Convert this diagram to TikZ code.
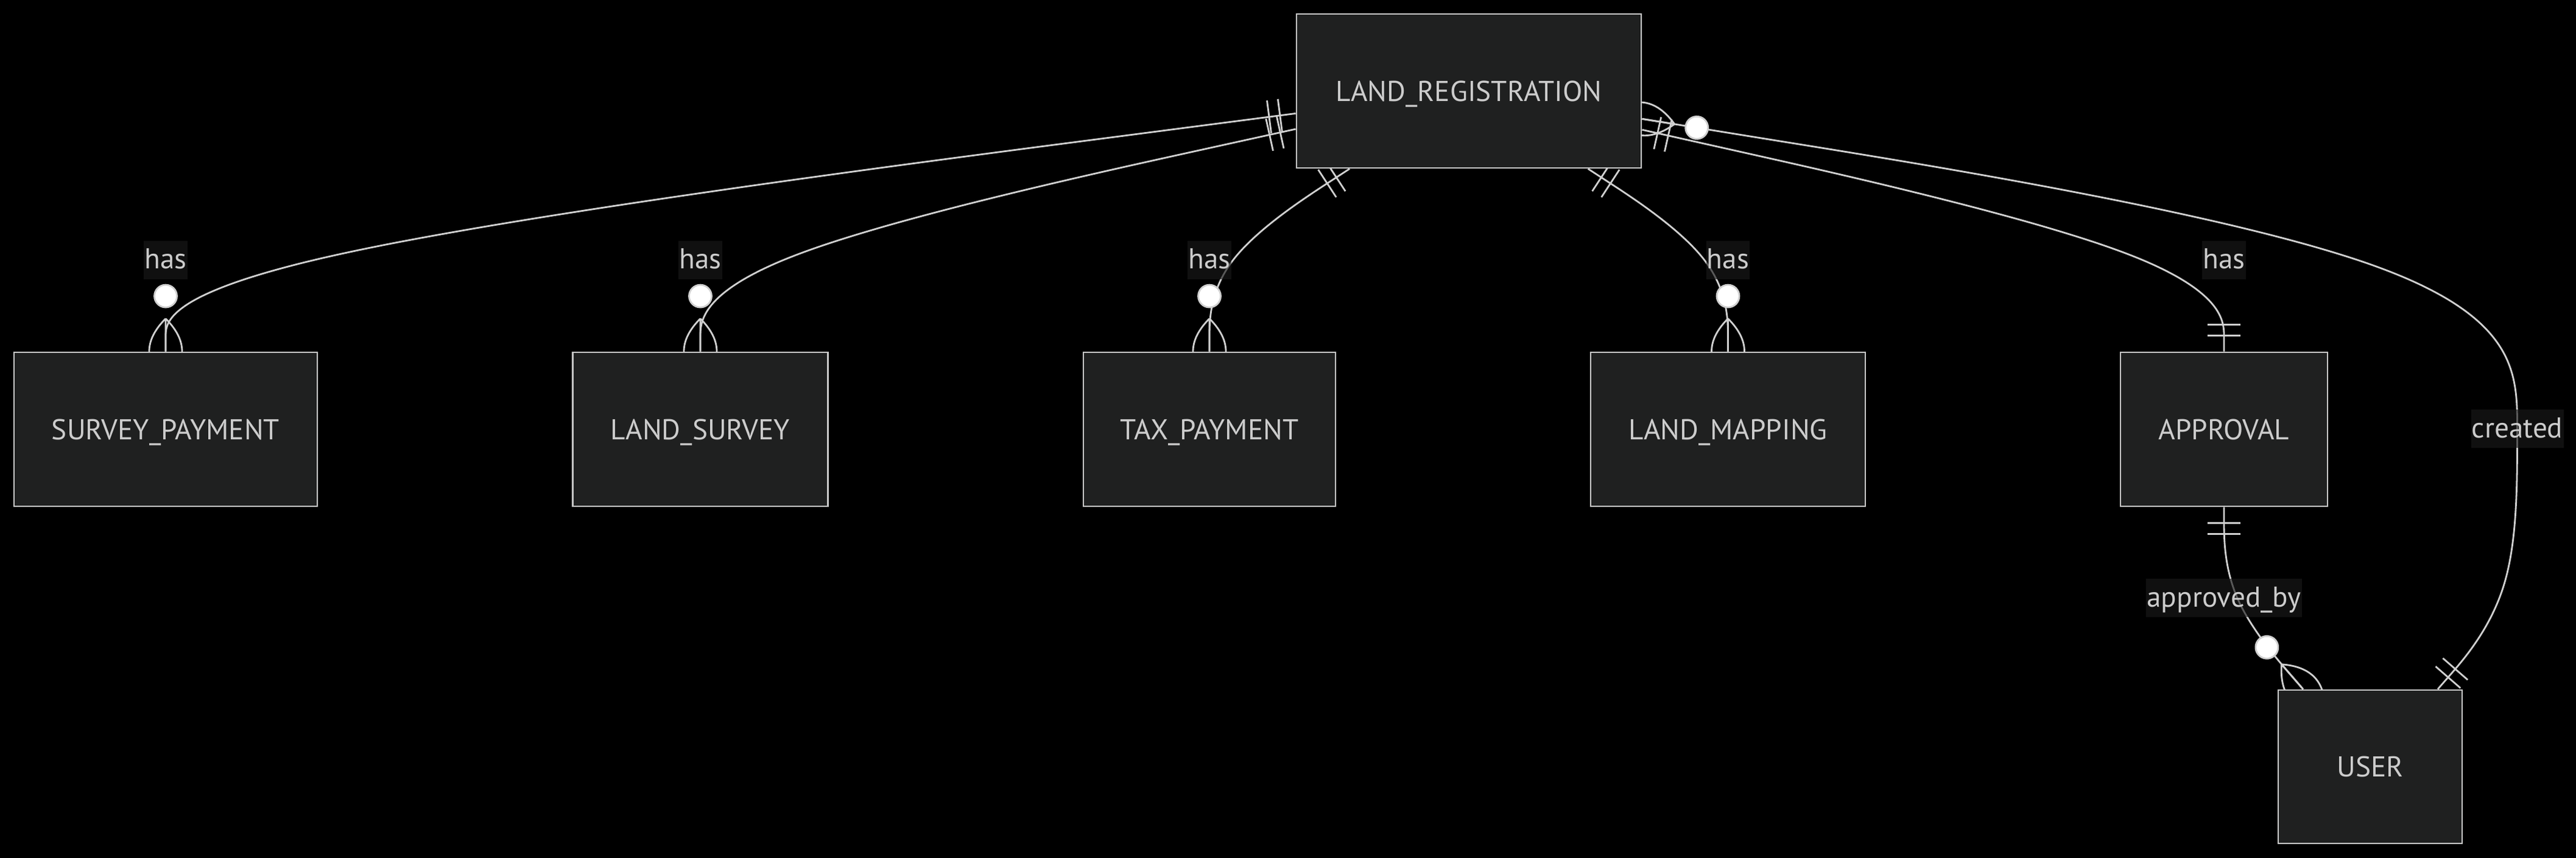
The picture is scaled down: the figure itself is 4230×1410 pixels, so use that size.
\documentclass[tikz,border=0pt]{standalone}
\usepackage{fontspec}
\setmainfont{PT Sans}
\usetikzlibrary{calc}
\definecolor{boxfill}{HTML}{1F2020}
\definecolor{boxline}{HTML}{C8C8C8}
\definecolor{txt}{HTML}{CCCCCC}
\definecolor{edgec}{HTML}{D0D0D0}
\definecolor{lblbg}{HTML}{1A1A1A}
\pgfdeclarelayer{back}
\pgfdeclarelayer{edges}
\pgfsetlayers{back,edges,main}
\newcommand\erangle[2]{%
  \pgfmathanglebetweenpoints{\pgfpointanchor{#1}{center}}{\pgfpointanchor{#2}{center}}%
  \global\let\erang\pgfmathresult}
\newcommand\onebars[2]{%
  \erangle{#1}{#2}%
  \begin{scope}[shift={(#1)}, rotate=\erang]
    \draw[edge] (26,-27) -- (26,27) (44,-27) -- (44,27);
  \end{scope}}
\newcommand\manyzero[2]{%
  \erangle{#1}{#2}%
  \begin{scope}[shift={(#1)}, rotate=\erang]
    \draw[edge] (54,0) -- (0,0)
      (54,0) .. controls (18,36) and (-18,36) .. (-54,0)
      (54,0) .. controls (18,-36) and (-18,-36) .. (-54,0);
    \draw[circ] (91,0) circle[radius=18.5];
  \end{scope}}
\tikzset{
  erfont/.style={font=\fontsize{11.8pt}{14pt}\selectfont},
  entity/.style={draw=boxline, fill=boxfill, line width=0.7pt, text=txt, erfont,
    minimum height=63.25pt, inner sep=0pt, text height=8.3pt, text depth=0pt},
  elabel/.style={fill=lblbg, fill opacity=0.65, text opacity=1, text=txt, erfont,
    inner xsep=0.3pt, inner ysep=0pt, text height=11.5pt, text depth=4.25pt},
  edge/.style={draw=edgec, line width=0.7pt},
  circ/.style={draw=edgec, fill=white, line width=0.7pt},
}
\begin{document}
\begin{tikzpicture}[x=0.25pt, y=-0.25pt]
\useasboundingbox (0,0) rectangle (4230,1410);
\begin{pgfonlayer}{back}
  \fill[black] (0,0) rectangle (4230,1410);
\end{pgfonlayer}
% entities
\node[entity, minimum width=141.5pt] (LR) at (2412,149.5) {LAND\_REGISTRATION};
\node[entity, minimum width=124.5pt] (SP) at (272,705.5) {SURVEY\_PAYMENT};
\node[entity, minimum width=104.75pt] (LS) at (1150,705.5) {LAND\_SURVEY};
\node[entity, minimum width=103.5pt] (TP) at (1986,705.5) {TAX\_PAYMENT};
\node[entity, minimum width=112.75pt] (LM) at (2837.5,705.5) {LAND\_MAPPING};
\node[entity, minimum width=85pt] (APPROVAL) at (3652,705.5) {APPROVAL};
\node[entity, minimum width=75.5pt, minimum height=63pt] (USER) at (3892,1260) {USER};
% labels
\node[elabel] (lSP) at (272,427.5) {has};
\node[elabel] (lLS) at (1150,427.5) {has};
\node[elabel] (lTP) at (1986,427.5) {has};
\node[elabel] (lLM) at (2837.5,427.5) {has};
\node[elabel] (lAP) at (3652,427.5) {has};
\node[elabel] (lCR) at (4133.5,705) {created};
\node[elabel] (lAB) at (3652,982.5) {approved\_by};
\coordinate (cB) at (4133.5,427.5);
\coordinate (cD) at (4133.5,982.5);
% end points
\path (LR) -- (lSP.center) coordinate[pos=0] (aSP);
\path (lSP.center) -- (SP) coordinate[pos=1] (eSP);
\path (LR) -- (lLS.center) coordinate[pos=0] (aLS);
\path (lLS.center) -- (LS) coordinate[pos=1] (eLS);
\path (LR) -- (lTP.center) coordinate[pos=0] (aTP);
\path (lTP.center) -- (TP) coordinate[pos=1] (eTP);
\path (LR) -- (lLM.center) coordinate[pos=0] (aLM);
\path (lLM.center) -- (LM) coordinate[pos=1] (eLM);
\path (LR) -- (lAP.center) coordinate[pos=0] (aAP);
\path (lAP.center) -- (APPROVAL) coordinate[pos=1] (eAP);
\path (lAB.center) -- (APPROVAL) coordinate[pos=1] (aAB);
\path (lAB.center) -- (USER) coordinate[pos=1] (eAB);
\path (LR) -- (cB) coordinate[pos=0] (aCR);
\path (cD) -- (USER) coordinate[pos=1] (eCR);
\begin{pgfonlayer}{edges}
% LAND_REGISTRATION -> SURVEY_PAYMENT
\draw[edge] (LR) -- (1819.5,226.5) .. controls (1510,266.7) and (891,347.1) .. (581.5,412.6)
  .. controls (272,478) and (272,528.5) .. (272,553.75) -- (SP);
% -> LAND_SURVEY
\draw[edge] (LR) -- (1965.8,247.75) .. controls (1802.7,283.7) and (1476.3,355.6) .. (1313.2,416.8)
  .. controls (1150,478) and (1150,528.5) .. (1150,553.75) -- (LS);
% -> TAX_PAYMENT
\draw[edge] (LR) -- (2179.5,301.25) .. controls (2140.8,326.5) and (2063.4,377) .. (2024.7,427.5)
  .. controls (1986,478) and (1986,528.5) .. (1986,553.75) -- (TP);
% -> LAND_MAPPING
\draw[edge] (LR) -- (2644.25,301.25) .. controls (2682.9,326.5) and (2760.2,377) .. (2798.85,427.5)
  .. controls (2837.5,478) and (2837.5,528.5) .. (2837.5,553.75) -- (LM);
% -> APPROVAL
\draw[edge] (LR) -- (2854.5,248.7) .. controls (3014,284.4) and (3333,356) .. (3492.5,417)
  .. controls (3652,478) and (3652,528.5) .. (3652,553.75) -- (APPROVAL);
% APPROVAL -> USER
\draw[edge] (APPROVAL) -- (3652,857.1) .. controls (3652,882.2) and (3652,932.3) .. (3673.8,982.7)
  .. controls (3695.7,1033) and (3739.3,1083.5) .. (3761.2,1108.75) -- (USER);
% LAND_REGISTRATION -> USER (created)
\draw[edge] (LR) -- (2934.75,233.9) .. controls (3174.5,272.6) and (3654,350.1) .. (3893.75,435)
  .. controls (4133.5,520) and (4133.5,612.5) .. (4133.5,705)
  .. controls (4133.5,797.5) and (4133.5,890) .. (4111.5,961.5)
  .. controls (4089.6,1033) and (4045.6,1083.5) .. (4023.7,1108.75) -- (USER);
% markers
\onebars{aSP}{lSP}\manyzero{eSP}{lSP}
\onebars{aLS}{lLS}\manyzero{eLS}{lLS}
\onebars{aTP}{lTP}\manyzero{eTP}{lTP}
\onebars{aLM}{lLM}\manyzero{eLM}{lLM}
\onebars{aAP}{lAP}\onebars{eAP}{lAP}
\onebars{aAB}{lAB}\manyzero{eAB}{lAB}
\manyzero{aCR}{cB}\onebars{eCR}{cD}
\end{pgfonlayer}
\end{tikzpicture}
\end{document}
